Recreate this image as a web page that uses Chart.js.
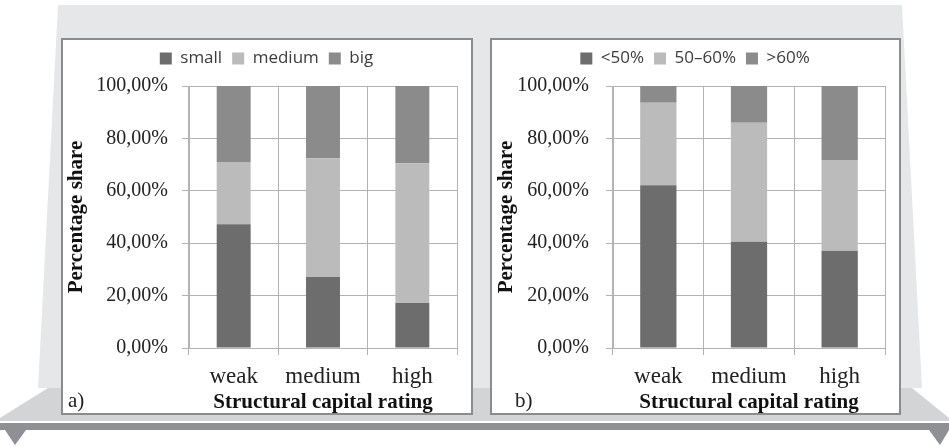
<!DOCTYPE html>
<html><head><meta charset="utf-8">
<script src="https://cdn.jsdelivr.net/npm/chart.js@4.4.0/dist/chart.umd.min.js"></script>
<style>
html,body{margin:0;padding:0;background:#fff;}
#stage{position:relative;width:949px;height:446px;overflow:hidden;}
#deco{position:absolute;left:0;top:0;}
.panel{position:absolute;top:38px;height:373px;background:#fff;border:2px solid #8c8c8c;}
#pa{left:61px;width:408px;}
#pb{left:490px;width:407px;}
.panel canvas{position:absolute;left:0;top:0;}
.tag{position:absolute;top:390px;font-family:"Liberation Serif",serif;font-size:21px;line-height:21px;color:#222;}
</style></head>
<body><div id="stage">
<svg id="deco" width="949" height="446">
 <polygon points="58,5 902,5 922,388 38,388" fill="#e6e7e8"/>
 <polygon points="48,388 912,388 949,418 949,421 0,421 0,418" fill="#d3d4d6"/>
 <rect x="0" y="423" width="949" height="7" fill="#8f9093"/>
 <polygon points="5,430 26,430 15,445" fill="#8f9093"/>
 <polygon points="929,430 949,430 940,445" fill="#8f9093"/>
</svg>
<div class="panel" id="pa"><canvas id="ca" width="408" height="373"></canvas></div>
<div class="panel" id="pb"><canvas id="cb" width="407" height="373"></canvas></div>
<div class="tag" style="left:68px">a)</div>
<div class="tag" style="left:515px">b)</div>
</div>
<script>
const categories = ['weak', 'medium', 'high'];
const sizeLabels = ['small', 'medium', 'big'];
const sizeSmall  = [47.2, 27.1, 17.2];
const sizeMedium = [23.8, 45.3, 53.3];
const sizeBig    = [29.0, 27.6, 29.5];
const shareLabels = ['<50%', '50–60%', '>60%'];
const shareLow  = [62.1, 40.6, 37.1];
const shareMid  = [31.5, 45.4, 34.7];
const shareHigh = [6.4, 14.0, 28.2];
const yTickLabels = ['0,00%', '20,00%', '40,00%', '60,00%', '80,00%', '100,00%'];
const xTitle = 'Structural capital rating';
const yTitle = 'Percentage share';

const COLORS = ['#6d6d6d', '#bbbbbb', '#8b8b8b'];
const GRID = '#b3b3b3';
const SERIF = '"Liberation Serif", serif';

const legendGap = {
  id: 'legendGap',
  beforeUpdate(chart, args, opts) {
    const lg = chart.legend;
    if (lg && !lg.__gap) {
      const fit = lg.fit;
      lg.fit = function () { fit.apply(this, arguments); this.height += (opts.gap || 0); };
      lg.__gap = true;
    }
  }
};

function makeChart(id, labels, series, cfg) {
  const datasets = series.map((d, i) => ({
    label: labels[i], data: d, backgroundColor: COLORS[i], borderWidth: 0,
    barPercentage: cfg.barPct, categoryPercentage: 1
  }));
  return new Chart(document.getElementById(id), {
    type: 'bar',
    data: { labels: categories, datasets },
    plugins: [legendGap],
    options: {
      responsive: false, animation: false,
      layout: { padding: { left: 13, right: 14, top: 0, bottom: 0 } },
      plugins: {
        legendGap: { gap: 9 },
        tooltip: { enabled: false },
        legend: {
          position: 'top',
          labels: { boxWidth: 12, boxHeight: 12, padding: 10, color: '#3c3c3c',
                    font: { family: '"Open Sans", sans-serif', size: 17 } }
        }
      },
      scales: {
        x: {
          stacked: true,
          grid: { color: GRID, tickLength: 7, offset: true },
          border: { color: GRID },
          ticks: { color: '#222', padding: 8, font: { family: SERIF, size: 23 } },
          title: { display: true, text: xTitle, color: '#111', padding: 0,
                   font: { family: SERIF, size: 21, weight: 'bold', lineHeight: 1 } },
          afterFit(s) { s.height = 65; }
        },
        y: {
          stacked: true, min: 0, max: 100,
          grid: { color: GRID, tickLength: 7 },
          border: { color: GRID },
          ticks: { stepSize: 20, color: '#222', padding: cfg.yPad,
                   font: { family: SERIF, size: 20 },
                   callback: (v, i) => yTickLabels[i] },
          title: { display: true, text: yTitle, color: '#111',
                   padding: { top: cfg.titlePad, bottom: 0 },
                   font: { family: SERIF, size: 21, weight: 'bold', lineHeight: 1 } },
          afterFit(s) { s.width = cfg.yWidth; }
        }
      }
    }
  });
}

makeChart('ca', sizeLabels, [sizeSmall, sizeMedium, sizeBig],
  { barPct: 0.38, yPad: 14, yWidth: 113, titlePad: -9.5 });
makeChart('cb', shareLabels, [shareLow, shareMid, shareHigh],
  { barPct: 0.4, yPad: 17, yWidth: 108, titlePad: -8.5 });
</script>
</body></html>
